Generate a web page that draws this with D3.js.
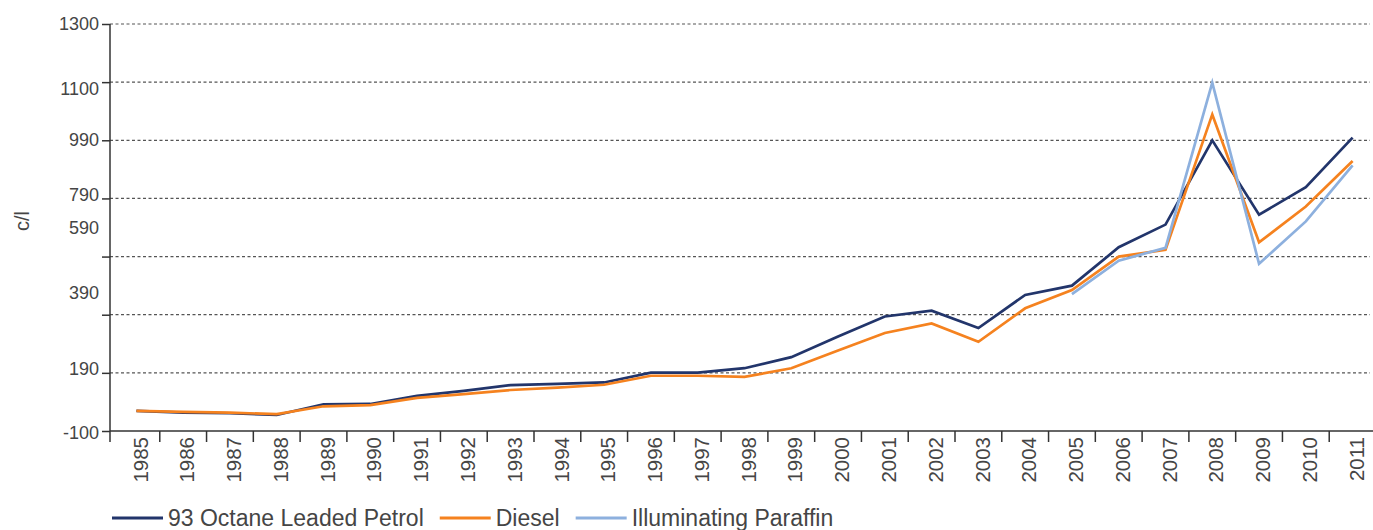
<!DOCTYPE html>
<html>
<head>
<meta charset="utf-8">
<script src="https://cdn.jsdelivr.net/npm/d3@7"></script>
<style>
  body { margin: 0; background: #fff; }
  text { font-family: "Liberation Sans", Arial, sans-serif; fill: #454545; }
</style>
</head>
<body>
<div id="chart"></div>
<script>
// fuel prices, c/l
var years = ["1985","1986","1987","1988","1989","1990","1991","1992","1993","1994","1995","1996","1997","1998",
             "1999","2000","2001","2002","2003","2004","2005","2006","2007","2008","2009","2010","2011"];
var petrol   = [-31,-37,-39,-45,-8,-7,21,38,58,62,67,101,101,116,154,225,294,314,254,368,400,532,610,900,644,739,909];
var diesel   = [-31,-34,-37,-42,-15,-11,14,27,41,49,59,90,90,86,116,177,237,270,207,322,385,500,523,989,549,672,829];
var paraffin = [null,null,null,null,null,null,null,null,null,null,null,null,null,null,null,null,null,null,null,null,
                371,486,530,1098,475,621,814];

var seriesNames  = ["93 Octane Leaded Petrol", "Diesel", "Illuminating Paraffin"];
var seriesColors = ["#22356b", "#f5821f", "#8db0de"];

var yTickValues = [-100,100,300,500,700,900,1100,1300];
// labels as printed on the original axis, and where they sit
var yLabelText = ["1300","1100","990","790","590","390","190","-100"];
var yLabelAt   = [1300,1079,902,712,598,377,116,-107];

var width = 1373, height = 530;

var svg = d3.select("#chart").append("svg")
  .attr("width", width).attr("height", height);

var x = d3.scaleBand().domain(years).range([113, 1376]);
var y = d3.scaleLinear().domain([-100, 1300]).range([431, 24]);
var bw = x.bandwidth();

// grid lines
svg.append("g").selectAll("line")
  .data(yTickValues.slice(1))
  .enter().append("line")
  .attr("x1", 110).attr("x2", 1370)
  .attr("y1", function(d) { return y(d); })
  .attr("y2", function(d) { return y(d); })
  .attr("stroke", "#555")
  .attr("stroke-width", 1.2)
  .attr("stroke-dasharray", "3,2.5");

// y axis ticks
var yAxis = svg.append("g")
  .attr("transform", "translate(110,0)")
  .call(d3.axisLeft(y).tickValues(yTickValues).tickSize(8).tickSizeOuter(0).tickFormat(""));
yAxis.select(".domain").remove();
yAxis.selectAll(".tick line").attr("stroke", "#333").attr("stroke-width", 1.5);

svg.append("line")
  .attr("x1", 110).attr("x2", 110)
  .attr("y1", y(1300)).attr("y2", y(-100) + 11)
  .attr("stroke", "#333").attr("stroke-width", 1.5);

svg.append("g").selectAll("text")
  .data(yLabelText)
  .enter().append("text")
  .attr("x", 99)
  .attr("y", function(d, i) { return y(yLabelAt[i]); })
  .attr("dy", "0.35em")
  .attr("text-anchor", "end")
  .style("font-size", "18px")
  .text(function(d) { return d; });

svg.append("text")
  .attr("transform", "translate(22," + 221 + ") rotate(-90)")
  .attr("text-anchor", "middle")
  .attr("dy", "0.35em")
  .style("font-size", "20px")
  .text("c/l");

// x axis
svg.append("line")
  .attr("x1", 110).attr("x2", 1373)
  .attr("y1", y(-100)).attr("y2", y(-100))
  .attr("stroke", "#333").attr("stroke-width", 1.5);

svg.append("g").selectAll("line")
  .data(years.slice(1))
  .enter().append("line")
  .attr("x1", function(d) { return x(d); })
  .attr("x2", function(d) { return x(d); })
  .attr("y1", y(-100)).attr("y2", y(-100) + 11)
  .attr("stroke", "#333").attr("stroke-width", 1.5);

svg.append("g").selectAll("text")
  .data(years)
  .enter().append("text")
  .attr("transform", function(d) { return "translate(" + (x(d) + bw / 2 + 4) + "," + 437 + ") rotate(-90)"; })
  .attr("text-anchor", "end")
  .attr("dy", "0.35em")
  .style("font-size", "20.5px")
  .text(function(d) { return d; });

// lines
var allSeries = [petrol, diesel, paraffin];
var line = d3.line()
  .defined(function(d) { return d != null; })
  .x(function(d, i) { return x(years[i]) + bw / 2; })
  .y(function(d) { return y(d); });

svg.append("g").selectAll("path")
  .data(allSeries)
  .enter().append("path")
  .attr("d", line)
  .attr("fill", "none")
  .attr("stroke", function(d, i) { return seriesColors[i]; })
  .attr("stroke-width", 2.7)
  .attr("stroke-linejoin", "miter");

// legend
var lx = 112;
seriesNames.forEach(function(name, i) {
  var g = svg.append("g");
  g.append("line")
    .attr("x1", lx).attr("x2", lx + 51)
    .attr("y1", 518).attr("y2", 518)
    .attr("stroke", seriesColors[i]).attr("stroke-width", 3);
  var t = g.append("text")
    .attr("x", lx + 56).attr("y", 518)
    .attr("dy", "0.35em")
    .style("font-size", "23px")
    .text(name);
  lx += 56 + t.node().getComputedTextLength() + 16;
});
</script>
</body>
</html>
